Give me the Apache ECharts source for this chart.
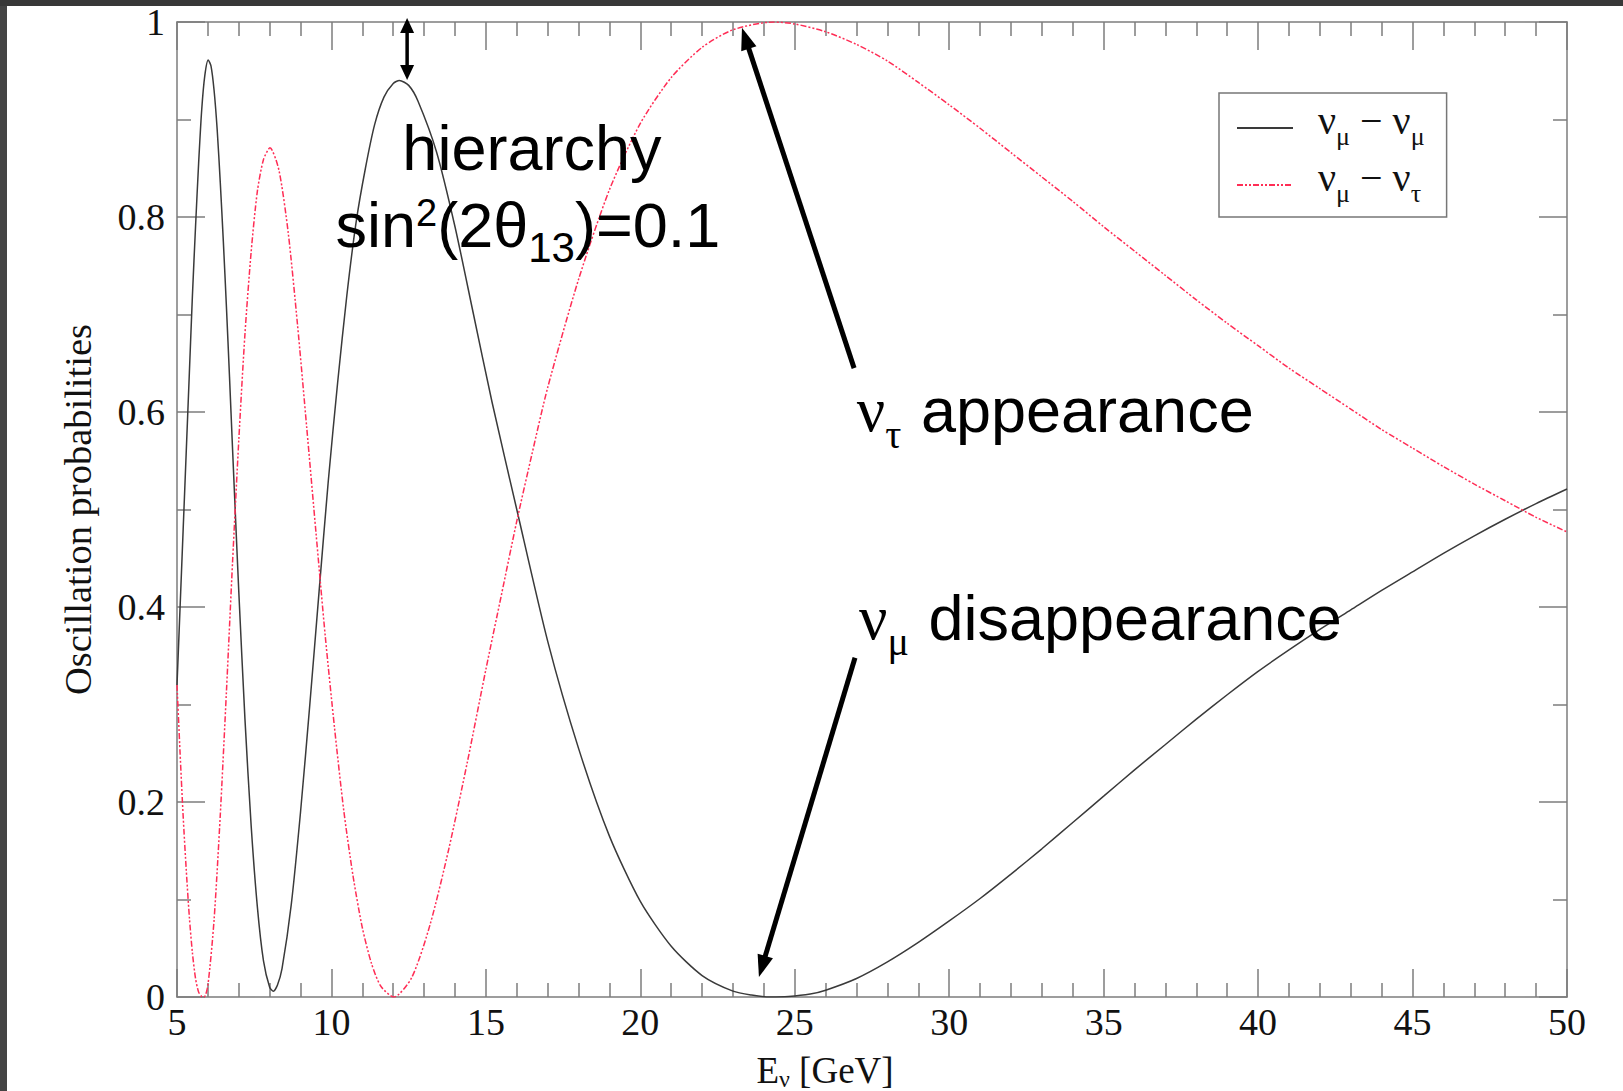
<!DOCTYPE html>
<html><head><meta charset="utf-8">
<script src="https://cdn.jsdelivr.net/npm/echarts@6/dist/echarts.min.js"></script>
<style>html,body{margin:0;padding:0;background:#fff;overflow:hidden}#c{width:1623px;height:1091px}</style>
</head><body><div id="c"></div><script>
// ---- data ----
const xTicks = [5, 10, 15, 20, 25, 30, 35, 40, 45, 50];
const yTickLabels = ['0', '0.2', '0.4', '0.6', '0.8', '1'];
const seriesNames = ['νμ − νμ', 'νμ − ντ'];

const muMuE = [5.0,5.1,5.2,5.3,5.4,5.5,5.6,5.7,5.8,5.9,6.01,6.1,6.2,6.3,6.4,6.5,6.6,6.7,6.8,6.9,7.0,7.2,7.4,7.6,7.8,8.0,8.12,8.25,8.4,8.7,9.0,9.3,9.6,9.9,10.2,10.5,10.8,11.1,11.4,11.7,12.0,12.2,12.5,12.8,13.4,14.0,14.6,15.2,16.0,17.0,18.0,19.0,20.0,21.0,22.0,23.0,23.6,24.2,24.8,25.5,26,27,28,29,30,31,32,33,34,35,36,37,38,39,40,41,42,43,44,45,46,47,48,49,50];
const muMuP = [0.32,0.40,0.48,0.56,0.64,0.72,0.79,0.855,0.91,0.945,0.961,0.955,0.93,0.89,0.836,0.775,0.708,0.636,0.561,0.488,0.416,0.285,0.176,0.093,0.037,0.01,0.006,0.012,0.029,0.095,0.19,0.30,0.416,0.53,0.63,0.72,0.795,0.85,0.895,0.923,0.937,0.94,0.935,0.919,0.867,0.79,0.70,0.61,0.50,0.365,0.255,0.165,0.098,0.052,0.022,0.006,0.002,0.0,0.0005,0.003,0.007,0.019,0.036,0.056,0.078,0.101,0.126,0.152,0.179,0.206,0.233,0.259,0.285,0.310,0.334,0.356,0.377,0.397,0.417,0.436,0.455,0.473,0.490,0.506,0.521];

const muTauE = [5.0,5.1,5.2,5.3,5.4,5.5,5.6,5.7,5.8,5.88,6.0,6.2,6.4,6.6,6.8,7.0,7.2,7.4,7.6,7.8,8.01,8.3,8.6,8.9,9.2,9.5,9.8,10.1,10.4,10.7,11.0,11.3,11.6,12.02,12.6,13.2,13.8,14.4,15.0,15.5,16.0,16.5,17.0,18.0,19.0,20.0,21.0,22.0,23.0,24.3,25,26,27,28,29,30,31,32,33,34,35,36,37,38,39,40,41,42,43,44,45,46,47,48,49,50];
const muTauP = [0.32,0.25,0.185,0.13,0.082,0.045,0.019,0.005,0.0005,0.0,0.012,0.079,0.186,0.313,0.447,0.571,0.68,0.764,0.826,0.859,0.871,0.848,0.784,0.69,0.584,0.476,0.37,0.276,0.191,0.124,0.071,0.034,0.011,0.0,0.02,0.075,0.152,0.241,0.336,0.412,0.488,0.558,0.625,0.736,0.828,0.896,0.943,0.974,0.992,1.0,0.998,0.99,0.977,0.96,0.938,0.915,0.891,0.866,0.841,0.816,0.790,0.765,0.740,0.715,0.691,0.668,0.645,0.624,0.603,0.582,0.563,0.544,0.526,0.509,0.492,0.477];

// annotation anchors, in data coordinates (E, P)
const arrowDefs = [
  {from: [12.45, 0.9405], to: [12.45, 1.004], both: true, w: 3.5, hl: 15, hw: 7},
  {from: [26.92, 0.645], to: [23.29, 0.994], both: false, w: 5, hl: 22, hw: 8},
  {from: [26.95, 0.348], to: [23.84, 0.0205], both: false, w: 5, hl: 22, hw: 8}
];
const textDefs = [
  {text: '{a|hierarchy}', at: [16.49, 0.871], align: 'center'},
  {text: '{a|sin}{sup|2}{a|(2θ}{sub|13}{a|)=0.1}', at: [16.36, 0.792], align: 'center'},
  {text: '{g|ν}{gs|τ}{a| appearance}', at: [27.01, 0.602], align: 'left'},
  {text: '{g|ν}{gs|μ}{a| disappearance}', at: [27.08, 0.389], align: 'left'}
];

const AX = '#7c7c7c';
const serif = "'Liberation Serif', 'Times New Roman', serif";
const sans = "'Liberation Sans', Arial, sans-serif";

function zip(a, b) { return a.map((v, i) => [v, b[i]]); }

const chart = echarts.init(document.getElementById('c'), null, {renderer: 'svg'});

function xAxisBase(pos) {
  return {
    type: 'value', min: 5, max: 50, interval: 5, position: pos, gridIndex: 0,
    axisLine: {show: true, onZero: false, lineStyle: {color: AX, width: 1.5}},
    axisTick: {show: true, inside: true, length: 28, lineStyle: {color: AX, width: 1.5}},
    minorTick: {show: true, splitNumber: 5, length: 14, lineStyle: {color: AX, width: 1.5}},
    splitLine: {show: false}, minorSplitLine: {show: false},
    axisLabel: {show: pos === 'bottom', fontFamily: serif, fontSize: 38, lineHeight: 32, color: '#111', margin: 9,
      formatter: v => xTicks.indexOf(v) >= 0 ? String(v) : ''}
  };
}
function yAxisBase(pos) {
  return {
    type: 'value', min: 0, max: 1, interval: 0.2, position: pos, gridIndex: 0,
    axisLine: {show: true, onZero: false, lineStyle: {color: AX, width: 1.5}},
    axisTick: {show: true, inside: true, length: 28, lineStyle: {color: AX, width: 1.5}},
    minorTick: {show: true, splitNumber: 2, length: 14, lineStyle: {color: AX, width: 1.5}},
    splitLine: {show: false}, minorSplitLine: {show: false},
    axisLabel: {show: pos === 'left', fontFamily: serif, fontSize: 38, color: '#111', margin: 12,
      formatter: v => yTickLabels[Math.round(v * 5)]}
  };
}

const xb = xAxisBase('bottom');
xb.name = '{e|E}{s|ν}{e| [GeV]}';
xb.nameLocation = 'middle';
xb.nameGap = 53;
xb.nameMoveOverlap = false;
xb.nameTextStyle = {padding: [0, 94, 0, 0], rich: {
  e: {fontFamily: serif, fontSize: 37, color: '#111', lineHeight: 40},
  s: {fontFamily: serif, fontSize: 24, color: '#111', lineHeight: 40, padding: [18, 0, 0, 0]}
}};
const yl = yAxisBase('left');
yl.name = 'Oscillation probabilities';
yl.nameLocation = 'middle';
yl.nameGap = 80;
yl.nameMoveOverlap = false;
yl.nameTextStyle = {fontFamily: serif, fontSize: 38.5, color: '#111'};

const legendRich = {
  n: {fontFamily: serif, fontSize: 40, color: '#111', lineHeight: 40, padding: [0, 0, 16, 0]},
  s: {fontFamily: serif, fontSize: 26, color: '#111', lineHeight: 40, padding: [16, 0, 0, 0]},
  p: {width: 20, lineHeight: 40}
};

chart.setOption({
  animation: false,
  backgroundColor: '#ffffff',
  grid: {left: 177, right: 56, top: 22, bottom: 94, containLabel: false, outerBoundsMode: 'none'},
  xAxis: [xb, xAxisBase('top')],
  yAxis: [yl, yAxisBase('right')],
  legend: {
    orient: 'vertical', left: 1219, top: 93,
    padding: [7, 22, 4, 17], itemGap: 1, itemWidth: 56, itemHeight: 14,
    borderColor: '#777', borderWidth: 1.5, backgroundColor: '#fff',
    itemStyle: {opacity: 0},
    data: seriesNames,
    formatter: name => name === seriesNames[0]
      ? '{p|}{n|ν}{s|μ}{n| − ν}{s|μ}'
      : '{p|}{n|ν}{s|μ}{n| − ν}{s|τ}',
    textStyle: {rich: legendRich}
  },
  series: [
    {name: seriesNames[0], type: 'line', xAxisIndex: 0, yAxisIndex: 0, data: zip(muMuE, muMuP),
     showSymbol: false, symbol: 'none', smooth: 0.25,
     lineStyle: {color: '#3a3a3a', width: 1.5}, itemStyle: {color: '#3a3a3a'}},
    {name: seriesNames[1], type: 'line', xAxisIndex: 0, yAxisIndex: 0, data: zip(muTauE, muTauP),
     showSymbol: false, symbol: 'none', smooth: 0.25,
     lineStyle: {color: '#ff2d55', width: 1.5, type: [6, 2, 2, 2, 2, 2]}, itemStyle: {color: '#ff2d55'}}
  ]
});

// ---- annotations (arrows + text) placed through the chart's own scales ----
function px(p) { return chart.convertToPixel({gridIndex: 0}, p); }
function head(tip, base, hw) {
  const dx = tip[0] - base[0], dy = tip[1] - base[1];
  const L = Math.hypot(dx, dy), nx = -dy / L, ny = dx / L;
  return [tip, [base[0] + nx * hw, base[1] + ny * hw], [base[0] - nx * hw, base[1] - ny * hw]];
}
const gfx = [
  {type: 'rect', shape: {x: 0, y: 0, width: 7, height: 1091}, style: {fill: '#444'}, z: 100},
  {type: 'rect', shape: {x: 0, y: 0, width: 1623, height: 6}, style: {fill: '#383838'}, z: 100}
];
arrowDefs.forEach(a => {
  const p0 = px(a.from), p1 = px(a.to);
  const dx = p1[0] - p0[0], dy = p1[1] - p0[1], L = Math.hypot(dx, dy);
  const ux = dx / L, uy = dy / L;
  const b1 = [p1[0] - ux * a.hl, p1[1] - uy * a.hl];
  const b0 = a.both ? [p0[0] + ux * a.hl, p0[1] + uy * a.hl] : p0;
  gfx.push({type: 'line', shape: {x1: b0[0], y1: b0[1], x2: b1[0] + ux * 2, y2: b1[1] + uy * 2},
    style: {stroke: '#000', lineWidth: a.w}, z: 50});
  gfx.push({type: 'polygon', shape: {points: head(p1, b1, a.hw)}, style: {fill: '#000'}, z: 50});
  if (a.both) gfx.push({type: 'polygon', shape: {points: head(p0, b0, a.hw)}, style: {fill: '#000'}, z: 50});
});
const annRich = {
  a: {fontFamily: sans, fontSize: 63, fill: '#000', lineHeight: 70, verticalAlign: 'middle'},
  sup: {fontFamily: sans, fontSize: 38, fill: '#000', lineHeight: 70, verticalAlign: 'middle', padding: [0, 0, 23, 0]},
  sub: {fontFamily: sans, fontSize: 42, fill: '#000', lineHeight: 70, verticalAlign: 'middle', padding: [46, 0, 0, 0]},
  g: {fontFamily: serif, fontSize: 63, fill: '#000', lineHeight: 70, verticalAlign: 'middle'},
  gs: {fontFamily: serif, fontSize: 40, fill: '#000', lineHeight: 70, verticalAlign: 'middle', padding: [48, 2, 0, 0]}
};
textDefs.forEach(t => {
  const p = px(t.at);
  gfx.push({type: 'text', x: p[0], y: p[1], z: 60,
    style: {text: t.text, rich: annRich, align: t.align, verticalAlign: 'middle', fill: '#000'}});
});
chart.setOption({graphic: gfx});
</script></body></html>
